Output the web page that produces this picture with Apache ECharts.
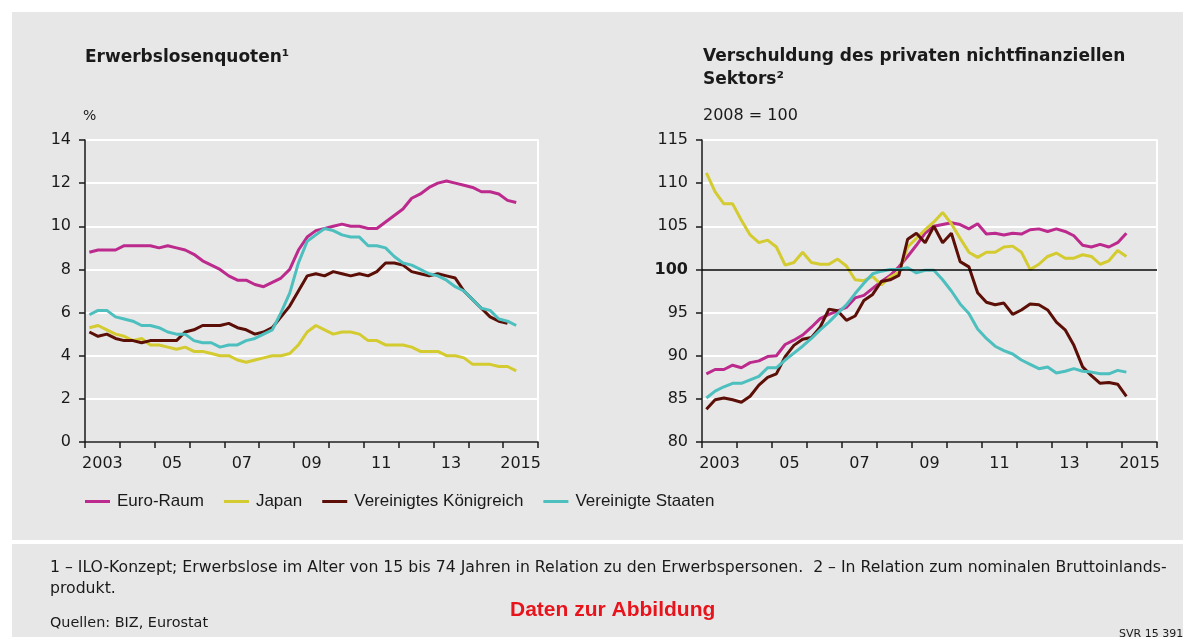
<!DOCTYPE html>
<html>
<head>
<meta charset="utf-8">
<title>Erwerbslosenquoten und Verschuldung</title>
<script src="https://cdn.jsdelivr.net/npm/echarts@6.0.0/dist/echarts.min.js"></script>
<style>
  html, body { margin: 0; padding: 0; background: #fff; }
  #chart { width: 1183px; height: 637px; }
</style>
</head>
<body>
<div id="chart"></div>
<script>
// Quartalswerte ab 1. Quartal 2003
const startYear = 2003;
const yearTicks = [2003, 2004, 2005, 2006, 2007, 2008, 2009, 2010, 2011, 2012, 2013, 2014, 2015, 2016];
const yearLabels = [2003, 2005, 2007, 2009, 2011, 2013, 2015];
const seriesNames = ['Euro-Raum', 'Japan', 'Vereinigtes Königreich', 'Vereinigte Staaten'];
const seriesColors = ['#bb2a8c', '#d3cb2f', '#5b0f07', '#4cbfbe'];

// Erwerbslosenquoten in % (bis 2. Quartal 2015, UK bis 1. Quartal 2015)
const alqEuro = [8.8, 8.9, 8.9, 8.9, 9.1, 9.1, 9.1, 9.1, 9.0, 9.1, 9.0, 8.9, 8.7, 8.4, 8.2, 8.0,
  7.7, 7.5, 7.5, 7.3, 7.2, 7.4, 7.6, 8.0, 8.9, 9.5, 9.8, 9.9, 10.0, 10.1, 10.0, 10.0,
  9.9, 9.9, 10.2, 10.5, 10.8, 11.3, 11.5, 11.8, 12.0, 12.1, 12.0, 11.9, 11.8, 11.6, 11.6, 11.5,
  11.2, 11.1];
const alqJapan = [5.3, 5.4, 5.2, 5.0, 4.9, 4.7, 4.8, 4.5, 4.5, 4.4, 4.3, 4.4, 4.2, 4.2, 4.1, 4.0,
  4.0, 3.8, 3.7, 3.8, 3.9, 4.0, 4.0, 4.1, 4.5, 5.1, 5.4, 5.2, 5.0, 5.1, 5.1, 5.0,
  4.7, 4.7, 4.5, 4.5, 4.5, 4.4, 4.2, 4.2, 4.2, 4.0, 4.0, 3.9, 3.6, 3.6, 3.6, 3.5,
  3.5, 3.3];
const alqUK = [5.1, 4.9, 5.0, 4.8, 4.7, 4.7, 4.6, 4.7, 4.7, 4.7, 4.7, 5.1, 5.2, 5.4, 5.4, 5.4,
  5.5, 5.3, 5.2, 5.0, 5.1, 5.3, 5.8, 6.3, 7.0, 7.7, 7.8, 7.7, 7.9, 7.8, 7.7, 7.8,
  7.7, 7.9, 8.3, 8.3, 8.2, 7.9, 7.8, 7.7, 7.8, 7.7, 7.6, 7.0, 6.6, 6.2, 5.8, 5.6,
  5.5];
const alqUS = [5.9, 6.1, 6.1, 5.8, 5.7, 5.6, 5.4, 5.4, 5.3, 5.1, 5.0, 5.0, 4.7, 4.6, 4.6, 4.4,
  4.5, 4.5, 4.7, 4.8, 5.0, 5.2, 6.0, 6.9, 8.3, 9.3, 9.6, 9.9, 9.8, 9.6, 9.5, 9.5,
  9.1, 9.1, 9.0, 8.6, 8.3, 8.2, 8.0, 7.8, 7.7, 7.5, 7.2, 7.0, 6.6, 6.2, 6.1, 5.7,
  5.6, 5.4];

// Verschuldung des privaten nichtfinanziellen Sektors, 2008 = 100 (bis 1. Quartal 2015)
const schuldEuro = [87.9, 88.4, 88.4, 88.9, 88.6, 89.2, 89.4, 89.9, 90.0, 91.3, 91.8, 92.4, 93.3, 94.3, 94.8, 95.2,
  95.6, 96.7, 97.0, 97.8, 98.6, 99.3, 100.3, 101.5, 102.8, 104.2, 105.0, 105.2, 105.4, 105.2, 104.7, 105.3,
  104.1, 104.2, 104.0, 104.2, 104.1, 104.6, 104.7, 104.4, 104.7, 104.4, 103.9, 102.8, 102.6, 102.9, 102.6, 103.1,
  104.2];
const schuldJapan = [111.2, 109.0, 107.6, 107.6, 105.7, 104.0, 103.1, 103.4, 102.6, 100.5, 100.8, 102.0, 100.8, 100.6, 100.6, 101.2,
  100.4, 98.8, 98.7, 99.2, 98.2, 99.1, 99.7, 102.6, 103.6, 104.6, 105.5, 106.6, 105.3, 103.6, 102.0, 101.4,
  102.0, 102.0, 102.6, 102.7, 102.0, 100.0, 100.6, 101.5, 101.9, 101.3, 101.3, 101.7, 101.5, 100.6, 101.0, 102.2,
  101.5];
const schuldUK = [83.8, 84.9, 85.1, 84.9, 84.6, 85.3, 86.6, 87.5, 87.9, 89.9, 91.2, 91.9, 92.1, 93.3, 95.4, 95.2,
  94.1, 94.6, 96.4, 97.1, 98.6, 98.8, 99.3, 103.5, 104.2, 103.1, 105.0, 103.1, 104.2, 100.9, 100.3, 97.3,
  96.2, 95.9, 96.1, 94.8, 95.3, 96.0, 95.9, 95.3, 93.9, 93.0, 91.2, 88.7, 87.7, 86.8, 86.9, 86.7,
  85.3];
const schuldUS = [85.1, 85.9, 86.4, 86.8, 86.8, 87.2, 87.6, 88.6, 88.6, 89.5, 90.3, 91.1, 92.0, 93.0, 93.9, 94.9,
  95.9, 97.2, 98.4, 99.5, 99.8, 100.0, 100.0, 100.2, 99.6, 99.9, 99.9, 98.8, 97.5, 96.0, 94.9, 93.1,
  92.0, 91.1, 90.6, 90.2, 89.5, 89.0, 88.5, 88.7, 88.0, 88.2, 88.5, 88.2, 88.1, 87.9, 87.9, 88.3,
  88.1];

const wideFont = '"DejaVu Sans", Verdana, sans-serif';
const narrowFont = '"Liberation Sans", Arial, sans-serif';
const textColor = '#1a1a1a';

// Quartalsmitte als x-Position
function toPoints(values) {
  return values.map((v, i) => [startYear + (i + 0.5) / 4, v]);
}

function yearFormatter(v) {
  const y = Math.floor(v);
  return (y === 2003 || y === 2015) ? String(y) : String(y).slice(2);
}

function makeXAxis(gridIndex) {
  return {
    type: 'value',
    gridIndex: gridIndex,
    min: 2003,
    max: 2016,
    axisLine: { show: true, onZero: false, lineStyle: { color: textColor, width: 1.5 } },
    axisTick: { show: true, customValues: yearTicks, length: 6, lineStyle: { color: textColor, width: 1.5 } },
    axisLabel: {
      customValues: yearLabels.map(y => y + 0.5),
      formatter: yearFormatter,
      margin: 14,
      fontSize: 16,
      color: textColor,
      fontFamily: wideFont
    },
    splitLine: { show: false }
  };
}

function makeYAxis(gridIndex, min, max, interval, formatter) {
  return {
    type: 'value',
    gridIndex: gridIndex,
    min: min,
    max: max,
    interval: interval,
    axisLine: { show: true, lineStyle: { color: textColor, width: 1.5 } },
    axisTick: { show: true, length: 6, lineStyle: { color: textColor, width: 1.5 } },
    axisLabel: {
      margin: 14,
      fontSize: 16,
      color: textColor,
      fontFamily: wideFont,
      formatter: formatter,
      rich: { b: { fontWeight: 'bold', fontSize: 16, color: textColor, fontFamily: wideFont } }
    },
    splitLine: { show: true, lineStyle: { color: '#ffffff', width: 2 } }
  };
}

// weisse Begrenzung rechts
function makeBorderAxis(gridIndex, min, max) {
  return {
    type: 'value',
    gridIndex: gridIndex,
    position: 'right',
    min: min,
    max: max,
    axisLine: { show: true, lineStyle: { color: '#ffffff', width: 2 } },
    axisTick: { show: false },
    axisLabel: { show: false },
    splitLine: { show: false }
  };
}

function makeLine(name, values, color, xIndex, yIndex) {
  return {
    name: name,
    type: 'line',
    xAxisIndex: xIndex,
    yAxisIndex: yIndex,
    data: toPoints(values),
    showSymbol: false,
    symbol: 'none',
    lineStyle: { color: color, width: 3 },
    itemStyle: { color: color },
    z: 3
  };
}

function titleText(text, left, top, size, weight, font, extra) {
  return {
    text: text,
    left: left,
    top: top,
    padding: 0,
    textStyle: Object.assign({ fontSize: size, fontWeight: weight, color: textColor, fontFamily: font }, extra || {})
  };
}

const leftData = [alqEuro, alqJapan, alqUK, alqUS];
const rightData = [schuldEuro, schuldJapan, schuldUK, schuldUS];

const series = [];
seriesNames.forEach((name, k) => {
  series.push(makeLine(name, leftData[k], seriesColors[k], 0, 0));
});
seriesNames.forEach((name, k) => {
  series.push(makeLine(name, rightData[k], seriesColors[k], 1, 2));
});
// Referenzlinie 2008 = 100
series[4].markLine = {
  silent: true,
  symbol: 'none',
  label: { show: false },
  lineStyle: { color: '#000000', width: 1.5, type: 'solid' },
  data: [{ yAxis: 100 }]
};

const myChart = echarts.init(document.getElementById('chart'), null, { renderer: 'canvas' });
myChart.setOption({
  animation: false,
  backgroundColor: '#ffffff',
  textStyle: { fontFamily: wideFont },
  graphic: [
    { type: 'rect', z: -10, silent: true, shape: { x: 12, y: 12, width: 1171, height: 528 }, style: { fill: '#e7e7e7' } },
    { type: 'rect', z: -10, silent: true, shape: { x: 12, y: 544, width: 1171, height: 93 }, style: { fill: '#e7e7e7' } }
  ],
  title: [
    titleText('Erwerbslosenquoten¹', 85, 49, 17, 'bold', wideFont),
    titleText('%', 83, 109, 14, 'normal', wideFont),
    titleText('Verschuldung des privaten nichtfinanziellen\nSektors²', 703, 45, 17, 'bold', wideFont, { lineHeight: 23 }),
    titleText('2008 = 100', 703, 108, 16, 'normal', wideFont),
    titleText('1 – ILO-Konzept; Erwerbslose im Alter von 15 bis 74 Jahren in Relation zu den Erwerbspersonen.  2 – In Relation zum nominalen Bruttoinlands-\nprodukt.',
      50, 557, 15.7, 'normal', wideFont, { lineHeight: 21 }),
    titleText('Quellen: BIZ, Eurostat', 50, 616, 14.4, 'normal', wideFont),
    { text: 'Daten zur Abbildung', left: 510, top: 600, padding: 0,
      textStyle: { fontSize: 21, fontWeight: 'bold', color: '#e8141c', fontFamily: narrowFont } },
    titleText('SVR 15 391', 1119, 629, 11, 'normal', wideFont)
  ],
  legend: {
    data: seriesNames,
    left: 85,
    top: 493,
    padding: 0,
    icon: 'rect',
    itemWidth: 25,
    itemHeight: 3,
    itemGap: 20,
    textStyle: { fontSize: 17, color: textColor, fontFamily: narrowFont, padding: [0, 0, 0, 2] }
  },
  grid: [
    { left: 85, top: 140, width: 453, height: 302 },
    { left: 702, top: 140, width: 455, height: 302 }
  ],
  xAxis: [makeXAxis(0), makeXAxis(1)],
  yAxis: [
    makeYAxis(0, 0, 14, 2),
    makeBorderAxis(0, 0, 14),
    makeYAxis(1, 80, 115, 5, v => v === 100 ? '{b|100}' : String(v)),
    makeBorderAxis(1, 80, 115)
  ],
  series: series
});
window.addEventListener('resize', myChart.resize);
</script>
</body>
</html>
